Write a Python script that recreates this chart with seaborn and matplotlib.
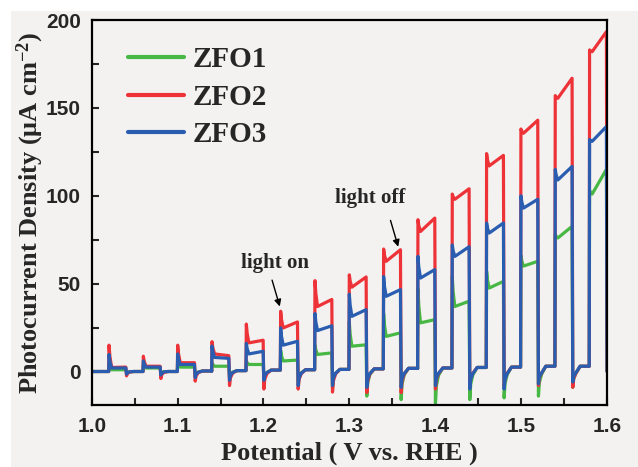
import numpy as np
import pandas as pd
import matplotlib
matplotlib.use("Agg")
import matplotlib.pyplot as plt
from matplotlib.ticker import MultipleLocator
from matplotlib.patches import Rectangle
import seaborn as sns

# light-on times (V vs RHE); each pulse lasts 0.02 V, dark 0.02 V
pulse_on = [1.02, 1.06, 1.10, 1.14, 1.18, 1.22, 1.26, 1.30,
            1.34, 1.38, 1.42, 1.46, 1.50, 1.54, 1.58]
# dark current level before each pulse
dark = [0, 0, 0, 0.3, 0.5, 0.8, 1, 1.2, 1.5, 1.8, 2, 2.3, 2.5, 3, 3]

# ZFO1
zfo1_spike = [4, 4, 5, 5, 6, 12, 15, 28, 33, 47, 54, 57, 66, 78, 103]
zfo1_start = [1, 2, 2.5, 3, 4, 6, 9.7, 14.4, 20, 27.7, 37, 47.5, 60, 76, 101]
zfo1_end = [1, 2, 2.5, 3, 4, 6.5, 10.6, 15.2, 22, 29.5, 40, 51.3, 62.7, 82.6, 115]
zfo1_dip = [-1, -1, -2, -3, -4, -6, -9, -14, -16, -18, -16, -15, -14, -9, 0]

# ZFO2
zfo2_spike = [15, 8.7, 15, 17, 27, 34.3, 51.7, 55, 69.7, 86.4, 101, 124, 138, 157, 183]
zfo2_start = [2.3, 3, 5, 10, 16.3, 24.8, 37, 48, 62.7, 79.7, 98, 117, 135.6, 155.5, 182]
zfo2_end = [2.5, 3, 5, 9, 17.8, 28.2, 41, 53.8, 69.3, 87.3, 104, 123, 143, 166.9, 193.4]
zfo2_dip = [-2.5, -4, -5.5, -8, -10, -10, -11.7, -12, -12, -10, -8, -8, -8, -9, 0]

# ZFO3
zfo3_spike = [9.7, 6, 10, 14.5, 16, 24.8, 33, 44, 54, 65.5, 72, 84.5, 100, 115, 132]
zfo3_start = [2, 2.5, 4, 8, 10, 15, 23.3, 31.4, 42.8, 53.2, 65.5, 78.8, 93, 109, 131]
zfo3_end = [2, 2.5, 4, 7.5, 11.5, 17.2, 26, 35.2, 46.6, 58, 71, 84.5, 98, 116.7, 139.4]
zfo3_dip = [-1.5, -2, -3.5, -5, -5, -8, -8, -9, -9, -8, -10, -10, -7, -6, 0]


def chopped(spike, start, end, dip):
    # one light-on / light-off cycle per pulse
    xs, ys = [1.0], [0.0]
    for i, t0 in enumerate(pulse_on):
        t1 = t0 + 0.02
        nxt = dark[i + 1] if i + 1 < len(dark) else 0
        xs += [t0 - 0.0004, t0, t0 + 0.001, t0 + 0.003, t1 - 0.0004,
               t1 + 0.0004, t1 + 0.0015, t1 + 0.004, t1 + 0.009, t0 + 0.0396]
        ys += [dark[i], spike[i], (spike[i] + start[i]) / 2, start[i], end[i],
               dip[i], dip[i] * 0.45, dip[i] * 0.12, nxt, nxt]
    return xs, ys


series = [
    ("ZFO1", "#48b845", chopped(zfo1_spike, zfo1_start, zfo1_end, zfo1_dip)),
    ("ZFO2", "#ee3338", chopped(zfo2_spike, zfo2_start, zfo2_end, zfo2_dip)),
    ("ZFO3", "#2a5cb0", chopped(zfo3_spike, zfo3_start, zfo3_end, zfo3_dip)),
]

sns.set_style("ticks")
bg = "#f3f2f1"
plt.rcParams["font.family"] = ["Liberation Serif", "DejaVu Serif"]
plt.rcParams["mathtext.fontset"] = "custom"
plt.rcParams["mathtext.rm"] = "Liberation Serif:bold"
plt.rcParams["mathtext.it"] = "Liberation Serif:bold"
plt.rcParams["mathtext.bf"] = "Liberation Serif:bold"

fig = plt.figure(figsize=(6.38, 4.67), dpi=100, facecolor="white")
# grey panel with a thin white margin on the left and top
fig.patches.append(Rectangle((11 / 638, 0), 1, 1 - 11 / 467, transform=fig.transFigure,
                             facecolor=bg, edgecolor="none", zorder=-10))
ax = fig.add_axes([0.144, 0.133, 0.807, 0.824])
ax.set_facecolor(bg)

for name, color, (xs, ys) in series:
    df = pd.DataFrame({"x": xs, "y": ys})
    sns.lineplot(data=df, x="x", y="y", sort=False, estimator=None,
                 color=color, linewidth=2.3, label=name, ax=ax)

ax.xaxis.set_major_locator(MultipleLocator(0.1))
ax.xaxis.set_minor_locator(MultipleLocator(0.05))
ax.yaxis.set_major_locator(MultipleLocator(50))
ax.yaxis.set_minor_locator(MultipleLocator(25))
ax.set_xlim(1.0, 1.6)
ax.set_ylim(-19, 200)
ax.tick_params(which="both", direction="in", length=5, width=1.5,
               top=False, right=False)
ax.tick_params(axis="x", pad=9)
ax.tick_params(axis="y", pad=8)
for lab in ax.get_xticklabels() + ax.get_yticklabels():
    lab.set_fontfamily("Liberation Sans")
    lab.set_fontweight("bold")
    lab.set_fontsize(15)
for sp in ax.spines.values():
    sp.set_linewidth(1.6)
    sp.set_color("black")

ax.set_xlabel("Potential ( V vs. RHE )", fontsize=19, fontweight="bold", labelpad=4)
ax.set_ylabel(r"Photocurrent Density (μA cm$^{-2}$)", fontsize=19,
              fontweight="bold", labelpad=0)

ax.text(1.213, 62, "light on", fontsize=15, fontweight="bold", ha="center", va="center")
ax.annotate("", xy=(1.219, 37), xytext=(1.21, 52),
            arrowprops=dict(arrowstyle="-|>", color="black", lw=1.0,
                            mutation_scale=10, shrinkA=0, shrinkB=0))
ax.text(1.324, 99, "light off", fontsize=15, fontweight="bold", ha="center", va="center")
ax.annotate("", xy=(1.357, 71), xytext=(1.348, 86),
            arrowprops=dict(arrowstyle="-|>", color="black", lw=1.0,
                            mutation_scale=10, shrinkA=0, shrinkB=0))

leg = ax.legend(loc="upper left", bbox_to_anchor=(0.02, 1.0), frameon=False,
                prop={"family": "Liberation Serif", "weight": "bold", "size": 21},
                handlelength=1.9, handletextpad=0.3, labelspacing=0.36)
for line in leg.get_lines():
    line.set_linewidth(3)

fig.savefig("out.png", dpi=100, facecolor="white")
